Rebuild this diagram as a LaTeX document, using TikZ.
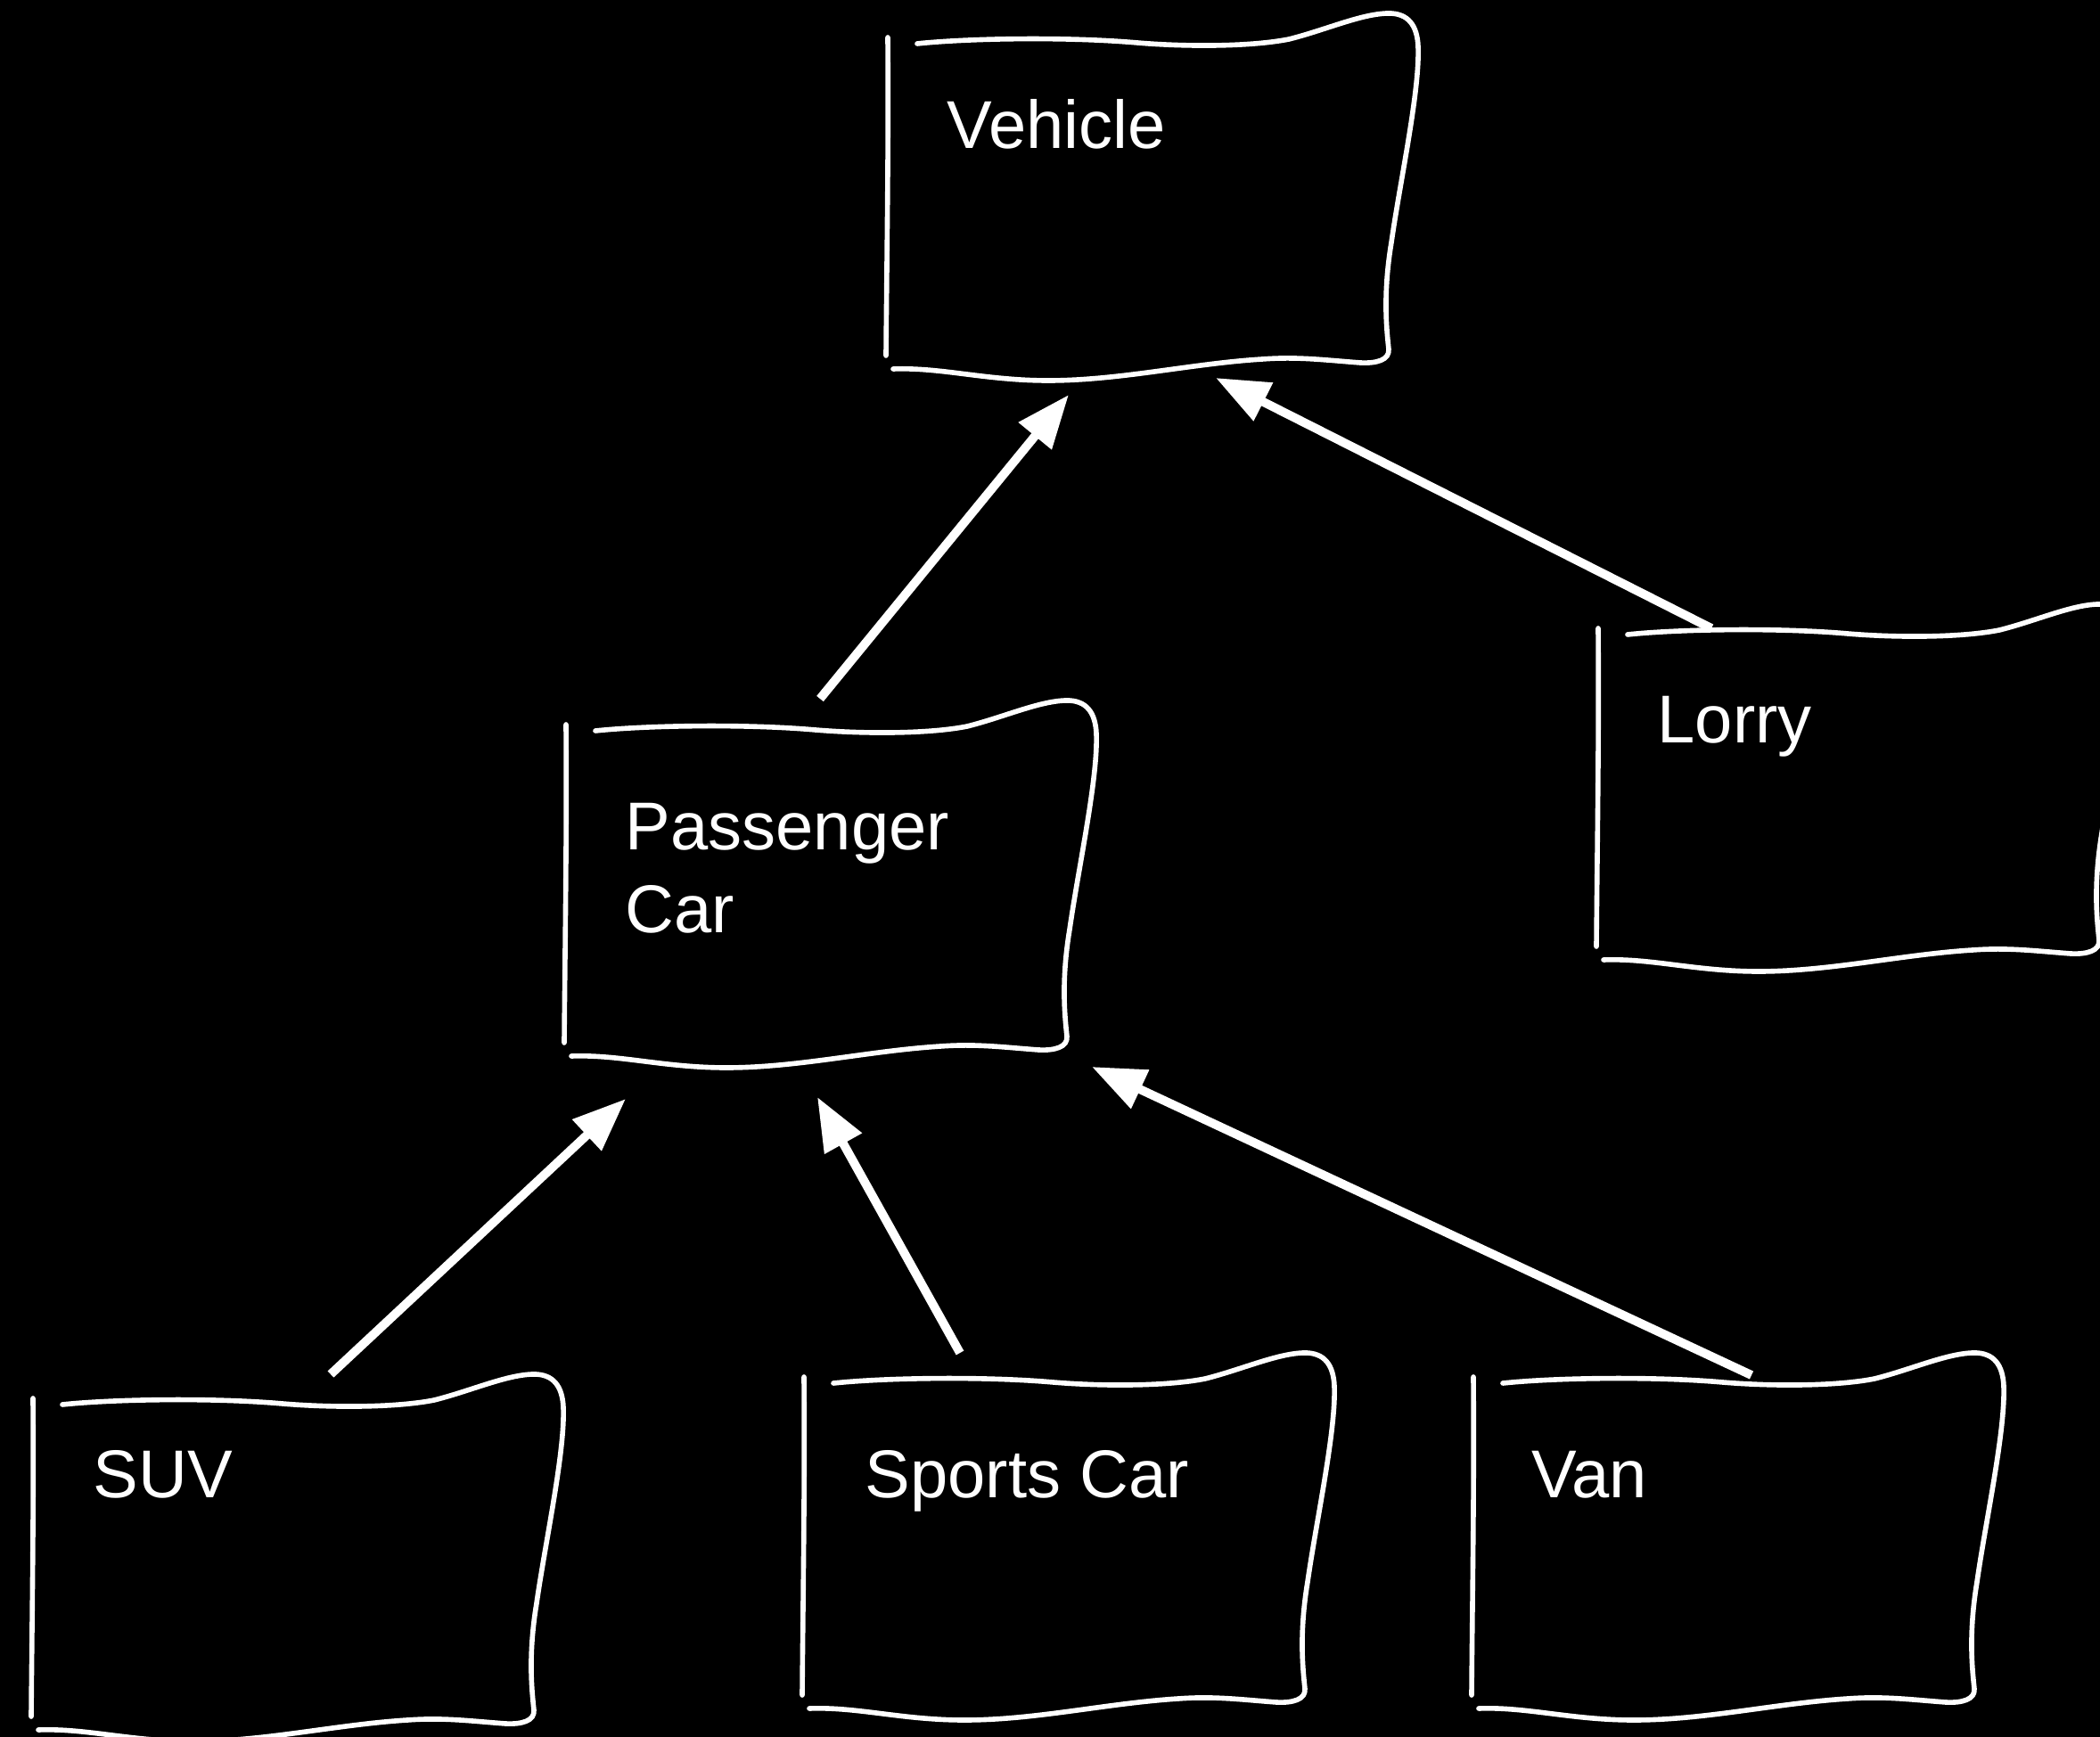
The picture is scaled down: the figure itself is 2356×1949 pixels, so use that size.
\documentclass[tikz,border=0pt]{standalone}
\usepackage{fontspec}
\setmainfont{Liberation Sans}
\usetikzlibrary{arrows.meta}

\tikzset{
  boxline/.style={draw=white, line width=1.6pt, line cap=round, line join=round},
  % hand-drawn box outline; origin is the top of the loose left stroke
  sketchbox/.pic={
    \draw[boxline] (0,0) .. controls (1,120) and (-1,240) .. (-2,357);
    \draw[boxline] (33,7) .. controls (90,1) and (200,-1) .. (280,6)
      .. controls (340,11) and (410,10) .. (450,2)
      .. controls (490,-8) and (530,-26) .. (560,-27)
      .. controls (585,-28) and (594,-12) .. (595,10)
      .. controls (597,60) and (575,160) .. (565,230)
      .. controls (555,290) and (560,330) .. (562,350)
      .. controls (563,362) and (548,366) .. (530,365)
      .. controls (490,362) and (460,358) .. (420,361)
      .. controls (340,366) and (260,385) .. (180,385)
      .. controls (110,385) and (60,370) .. (6,372);
  },
  lbl/.style={text=white, anchor=base west, inner sep=0pt,
    font=\fontsize{21.6pt}{26.7pt}\selectfont},
  isa/.style={draw=white, line width=2.8pt, line cap=butt,
    -{Triangle[length=17pt,width=13pt]}},
}

\begin{document}
\begin{tikzpicture}[x=0.01cm, y=-0.01cm]
  \useasboundingbox (0,0) rectangle (2356,1949);
  \fill[black] (0,0) rectangle (2356,1949);
  \clip (0,0) rectangle (2356,1949);

  % box anchors
  \coordinate (veh) at (996,42);
  \coordinate (pc)  at (635,813);
  \coordinate (lor) at (1793,705);
  \coordinate (suv) at (37,1569);
  \coordinate (spt) at (902,1545);
  \coordinate (van) at (1653,1545);

  \foreach \b in {veh,pc,lor,suv,spt,van} { \pic at (\b) {sketchbox}; }

  % labels (a two-line node sits on the baseline of its last line)
  \node[lbl] (vehT) at (1062,167) {Vehicle};
  \node[lbl, align=left] (pcT) at (701,1047) {Passenger\\Car};
  \node[lbl] (lorT) at (1859,834) {Lorry};
  \node[lbl] (suvT) at (104,1680) {SUV};
  \node[lbl] (sptT) at (970,1680) {Sports Car};
  \node[lbl] (vanT) at (1718,1680) {Van};

  % generalisation arrows
  \draw[isa] ([shift={(285,-29)}]pc)  -- ([shift={(203,401)}]veh);
  \draw[isa] ([shift={(127,0)}]lor)   -- ([shift={(368,382)}]veh);
  \draw[isa] ([shift={(334,-27)}]suv) -- ([shift={(67,420)}]pc);
  \draw[isa] ([shift={(175,-27)}]spt) -- ([shift={(282,418)}]pc);
  \draw[isa] ([shift={(312,-2)}]van)  -- ([shift={(590,384)}]pc);
\end{tikzpicture}
\end{document}
